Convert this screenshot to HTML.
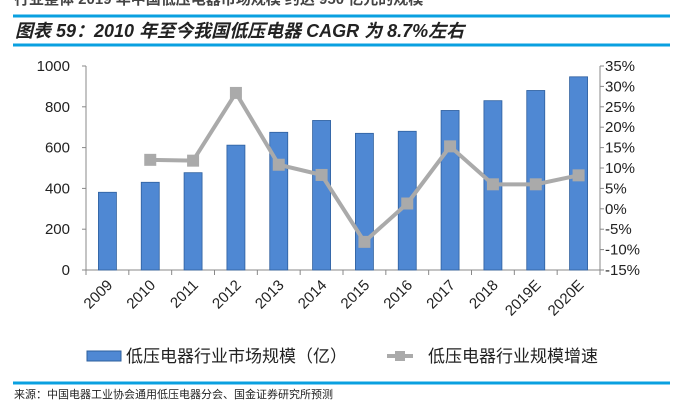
<!DOCTYPE html>
<html><head><meta charset="utf-8"><style>
body{margin:0;background:#fff;width:690px;height:403px;overflow:hidden;font-family:"Liberation Sans","Noto Sans CJK SC",sans-serif}
</style></head><body>
<svg width="690" height="403" xmlns="http://www.w3.org/2000/svg">
<text x="14" y="4" font-size="15" font-weight="bold" fill="#444">行业整体 2019 年中国低压电器市场规模 约达 950 亿元的规模</text>
<line x1="13" y1="16" x2="670" y2="16" stroke="#0aa0e0" stroke-width="3"/>
<text x="15" y="37" font-size="18" font-weight="bold" font-style="italic" fill="#222">图表 59：2010 年至今我国低压电器 CAGR 为 8.7%左右</text>
<line x1="13" y1="45" x2="670" y2="45" stroke="#0aa0e0" stroke-width="3"/>
<g id="plot"></g>
<rect x="87" y="351" width="34" height="10" fill="#4f88d3" stroke="#2e5f9e" stroke-width="1"/>
<text x="126" y="362" font-size="17" fill="#222">低压电器行业市场规模（亿）</text>
<line x1="387" y1="356" x2="413" y2="356" stroke="#aaa" stroke-width="4"/>
<rect x="395" y="351" width="10" height="10" fill="#aaa"/>
<text x="428" y="362" font-size="17" fill="#222">低压电器行业规模增速</text>
<line x1="13" y1="383" x2="670" y2="383" stroke="#0aa0e0" stroke-width="3"/>
<text x="14" y="398" font-size="11" fill="#222">来源：中国电器工业协会通用低压电器分会、国金证券研究所预测</text>
</svg>
<script>
const categories=["2009","2010","2011","2012","2013","2014","2015","2016","2017","2018","2019E","2020E"];
const marketSize=[381,430,477,612,675,733,670,680,782,830,880,947];
const growth=[null,12.0,11.8,28.4,10.8,8.3,-8.1,1.3,15.3,6.0,6.0,8.2];
const leftTicks=[0,200,400,600,800,1000];
const rightTicks=[-15,-10,-5,0,5,10,15,20,25,30,35];
const NS="http://www.w3.org/2000/svg";
const g=document.getElementById('plot');
const X0=86,X1=600,Y0=270,Y1=66;
const bw=(X1-X0)/categories.length;
const yL=v=>Y0-(v/1000)*(Y0-Y1);
const yR=v=>Y0-((v+15)/50)*(Y0-Y1);
const xc=i=>X0+bw*(i+0.5);
function mk(t,a){const e=document.createElementNS(NS,t);for(const k in a)e.setAttribute(k,a[k]);g.appendChild(e);return e;}
let e=mk('line',{x1:X0,y1:Y1,x2:X0,y2:Y0,stroke:'#888'});


e=mk('line',{x1:X1,y1:Y1,x2:X1,y2:Y0,stroke:'#888'});


e=mk('line',{x1:X0,y1:Y0,x2:X1,y2:Y0,stroke:'#888'});


leftTicks.forEach(v=>{
  const t=mk('line',{x1:X0-4,x2:X0,y1:yL(v),y2:yL(v),stroke:'#888'});
  
  
  const l=mk('text',{x:X0-16,y:yL(v)+5,'font-size':15,'text-anchor':'end',fill:'#222'});
  l.textContent=v;
  
  
});
rightTicks.forEach(v=>{
  const t=mk('line',{x1:X1,x2:X1+4,y1:yR(v),y2:yR(v),stroke:'#888'});
  
  
  const l=mk('text',{x:X1+5,y:yR(v)+5,'font-size':15,fill:'#222'});
  l.textContent=v+'%';
  
  
});
for(let i=0;i<=categories.length;i++){
  const t=mk('line',{x1:X0+bw*i,x2:X0+bw*i,y1:Y0,y2:Y0+5,stroke:'#888'});
  
  
}
categories.forEach((c,i)=>{
  const b=mk('rect',{x:xc(i)-9,y:yL(marketSize[i]),width:18,height:Y0-yL(marketSize[i]),fill:'#4f88d3',stroke:'#2e5f9e','stroke-width':0.8});
  
  
  const l=mk('text',{x:xc(i)+6,y:Y0+16,'font-size':15,'text-anchor':'end',fill:'#222',transform:`rotate(-45 ${xc(i)+6} ${Y0+16})`});
  l.textContent=c;
  
  
});
const pts=[];growth.forEach((v,i)=>{if(v!==null)pts.push([xc(i),yR(v)]);});
e=mk('polyline',{points:pts.map(p=>p.join(',')).join(' '),fill:'none',stroke:'#aaa','stroke-width':4});


growth.forEach((v,i)=>{if(v===null)return;
  const m=mk('rect',{x:xc(i)-6,y:yR(v)-6,width:12,height:12,fill:'#aaa'});
  
  
});
</script>
</body></html>
